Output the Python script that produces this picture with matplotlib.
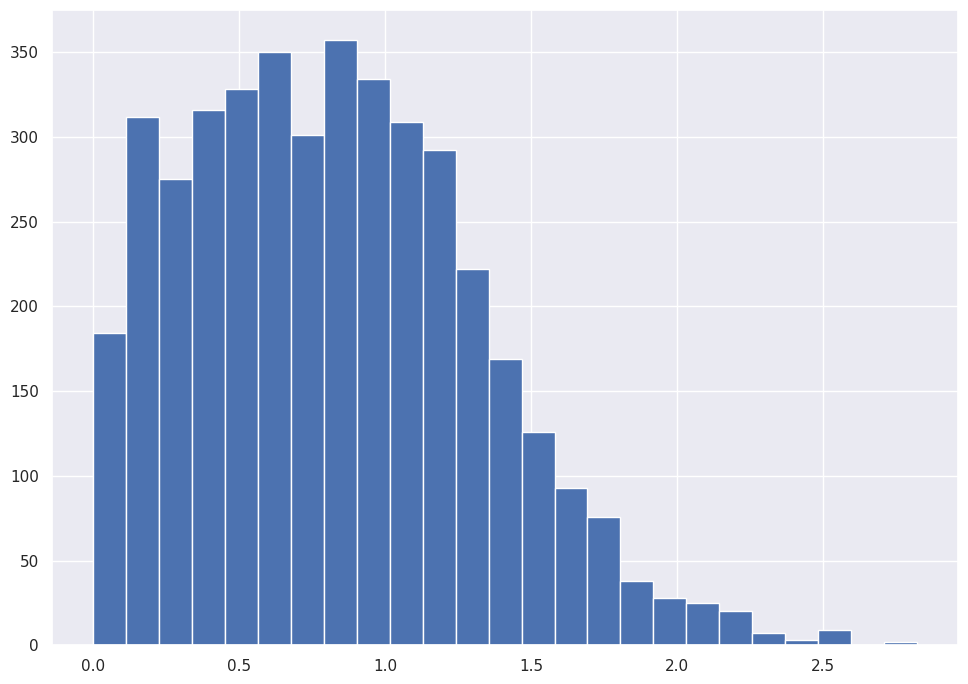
import matplotlib
matplotlib.use("Agg")
import matplotlib.pyplot as plt
import numpy as np
import seaborn as sns

# bin edges and counts
bin_start = 0.0
bin_end = 2.822
counts = [184, 312, 275, 316, 328, 350, 301, 357, 334, 309, 292, 222, 169,
          126, 93, 76, 38, 28, 25, 20, 7, 3, 9, 0, 2]

edges = np.linspace(bin_start, bin_end, len(counts) + 1)
centers = (edges[:-1] + edges[1:]) / 2

sns.set_theme()

fig, ax = plt.subplots(figsize=(9.68, 6.84), dpi=100)
fig.subplots_adjust(left=0.0540, right=0.9897, bottom=0.0565, top=0.9854)
ax.hist(centers, bins=edges, weights=counts, color="#4c72b0", edgecolor="white")

fig.savefig("out.png", dpi=100)
